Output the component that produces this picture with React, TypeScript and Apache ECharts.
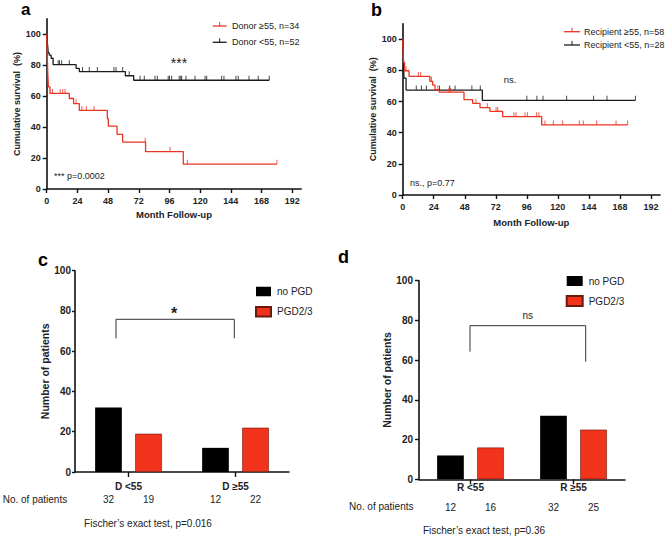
import React, { useEffect, useRef } from 'react';
import * as echarts from 'echarts';

// ---------- Panel a: donor age ----------
const monthTicks = [0, 24, 48, 72, 96, 120, 144, 168, 192];
const survTicks = [0, 20, 40, 60, 80, 100];
const donorLowCurve = [[0, 100], [0.4, 96], [0.8, 92], [1.2, 88], [2, 86.5], [3.5, 84.5], [5, 80.4], [23, 78], [25.5, 75.9], [61.5, 73.2], [68, 70.3], [174, 70.3]];
const donorLowCensor = [9, 10, 11.7, 17.7, 28, 33.3, 39.6, 52.6, 54.2, 59.4, 64.5, 73, 76.3, 84.7, 86.5, 95, 96, 97.7, 103.6, 104.8, 105.5, 108.9, 116, 123.8, 125.1, 136.8, 138.6, 148, 149.8, 158.2, 165.4, 174];
const donorHighCurve = [[0, 100], [0.4, 88], [0.8, 76], [1.3, 66], [2.6, 61.8], [17.7, 58.5], [21, 55.2], [25.5, 50.8], [47.4, 45.5], [48.2, 40.6], [55, 35.3], [59.4, 30.3], [77.3, 24.2], [106.8, 16.1], [180, 16.1]];
const donorHighCensor = [4.5, 10.5, 12.5, 14.3, 23, 27.5, 31, 37, 77, 96.4, 110, 180];

// ---------- Panel b: recipient age ----------
const recipHighCurve = [[0, 100], [0.3, 92], [0.7, 85], [1.5, 79.8], [4.9, 76.2], [21, 73], [23.2, 70.5], [25, 67.6], [28.3, 66], [47.4, 61.2], [54.1, 58.9], [59.8, 56.1], [67.5, 53.7], [77.3, 50.3], [107.5, 45], [174, 45]];
const recipHighCensor = [2.6, 12.1, 13.9, 22.2, 27.2, 35.8, 37.1, 56.7, 65.4, 72.2, 73.5, 86, 87.6, 94.6, 96.5, 103.6, 105.3, 110, 116.5, 123.7, 136.6, 139.7, 150, 165, 174];
const recipLowCurve = [[0, 100], [0.5, 88], [1, 75], [2.6, 67.4], [61.6, 60.8], [180, 60.8]];
const recipLowCensor = [10.5, 14.5, 18.3, 28.5, 36.3, 40.5, 53.5, 60, 96, 103.8, 108.5, 126.8, 147.6, 158, 180];

// ---------- Panel c: PGD by donor age ----------
const cCats = ['D <55', 'D ≥55'];
const cNoPgd = [32, 12];
const cPgd = [19, 22];

// ---------- Panel d: PGD by recipient age ----------
const dCats = ['R <55', 'R ≥55'];
const dNoPgd = [12, 32];
const dPgd = [16, 25];

const FONT = '"Liberation Sans", Arial, Helvetica, sans-serif';
const RED = '#ea3522';
const BLACK = '#1c1c1c';
const BAR_RED = '#f2331b';
const AXIS = '#111';

function valueAt(curve: number[][], t: number) {
  let v = curve[0][1];
  for (const [x, y] of curve) {
    if (x <= t) v = y;
    else break;
  }
  return v;
}
const censorPts = (curve: number[][], times: number[]) => times.map((t) => [t, valueAt(curve, t)]);

function kmX(gridIndex: number, nameGap: number) {
  return {
    gridIndex, type: 'value', min: 0, max: 199,
    axisLine: { show: true, lineStyle: { color: AXIS, width: 1.6 } },
    axisTick: { show: true, length: 4, customValues: monthTicks, lineStyle: { color: AXIS, width: 1.4 } },
    axisLabel: { customValues: monthTicks, fontSize: 9, fontWeight: 'bold', color: '#222', margin: 7 },
    splitLine: { show: false },
    name: 'Month Follow-up', nameLocation: 'middle', nameGap,
    nameTextStyle: { fontSize: 9.5, fontWeight: 'bold', color: '#222' },
  };
}
function kmY(gridIndex: number) {
  return {
    gridIndex, type: 'value', min: 0, max: 110,
    axisLine: { show: true, lineStyle: { color: AXIS, width: 1.6 } },
    axisTick: { show: true, length: 4, customValues: survTicks, lineStyle: { color: AXIS, width: 1.4 } },
    axisLabel: { customValues: survTicks, fontSize: 9, fontWeight: 'bold', color: '#222', margin: 6 },
    splitLine: { show: false },
    name: 'Cumulative survival  (%)', nameLocation: 'middle', nameGap: 25,
    nameTextStyle: { fontSize: 9, fontWeight: 'bold', color: '#222' },
  };
}
function barX(gridIndex: number, cats: string[], a: number[], b: number[], margin: number, numLH: number) {
  return {
    gridIndex, type: 'category', data: cats,
    axisLine: { show: true, lineStyle: { color: AXIS, width: 1.6 } },
    axisTick: { show: true, alignWithLabel: true, length: 5, lineStyle: { color: AXIS, width: 1.4 } },
    axisLabel: {
      margin, interval: 0,
      formatter: (v: string, i: number) => `{c|${v}}\n{n|${a[i]}}{n|${b[i]}}`,
      rich: {
        c: { fontSize: 10, fontWeight: 'bold', color: '#222', lineHeight: 13.3 },
        n: { fontSize: 10, color: '#222', width: 40, align: 'center', lineHeight: numLH },
      },
    },
    splitLine: { show: false },
  };
}
function barY(gridIndex: number, margin: number, tickLen: number, nameGap: number) {
  return {
    gridIndex, type: 'value', min: 0, max: 100, interval: 20,
    axisLine: { show: true, lineStyle: { color: AXIS, width: 1.6 } },
    axisTick: { show: true, length: tickLen, lineStyle: { color: AXIS, width: 1.4 } },
    axisLabel: { fontSize: 10, fontWeight: 'bold', color: '#222', margin },
    splitLine: { show: false },
    name: 'Number of patients', nameLocation: 'middle', nameGap,
    nameTextStyle: { fontSize: 10.5, fontWeight: 'bold', color: '#222' },
  };
}
function kmLine(name: string, curve: number[][], color: string, xi: number) {
  return {
    type: 'line', name, xAxisIndex: xi, yAxisIndex: xi, data: curve, step: 'end',
    showSymbol: false, symbol: 'none', lineStyle: { color, width: 1.3 }, z: 3,
  };
}
function kmCensor(curve: number[][], times: number[], color: string, xi: number) {
  return {
    type: 'scatter', xAxisIndex: xi, yAxisIndex: xi, data: censorPts(curve, times),
    symbol: 'rect', symbolSize: [1, 4.5], symbolOffset: [0, -2.2],
    itemStyle: { color }, z: 4,
  };
}
function bars(xi: number, a: number[], b: number[]) {
  return [
    { type: 'bar', name: 'no PGD', xAxisIndex: xi, yAxisIndex: xi, data: a, barWidth: 26.7, barGap: '50%', itemStyle: { color: '#000' } },
    { type: 'bar', name: 'PGD2/3', xAxisIndex: xi, yAxisIndex: xi, data: b, barWidth: 26.7, barGap: '50%', itemStyle: { color: BAR_RED, borderColor: '#6a1a0e', borderWidth: 0.6 } },
  ];
}
function txt(text: string, x: number, y: number, size: number, opts: any = {}) {
  return {
    type: 'text', silent: true,
    style: {
      text, x, y, fill: opts.fill || '#222',
      font: `${opts.weight || 'normal'} ${size}px ${FONT}`,
      textAlign: opts.align || 'left', textVerticalAlign: 'middle',
    },
  };
}
function kmLegend(x1: number, x2: number, y: number, color: string, label: string, tx: number) {
  const mid = (x1 + x2) / 2;
  return [
    { type: 'line', silent: true, shape: { x1, y1: y, x2, y2: y }, style: { stroke: color, lineWidth: 1.3 } },
    { type: 'line', silent: true, shape: { x1: mid, y1: y, x2: mid, y2: y - 4 }, style: { stroke: color, lineWidth: 1 } },
    txt(label, tx, y, 9),
  ];
}

export default function App() {
  const ref = useRef<HTMLDivElement>(null);
  useEffect(() => {
    if (!ref.current) return;
    const chart = echarts.init(ref.current, undefined, { renderer: 'svg' });
    const option: any = {
      animation: false,
      backgroundColor: '#fff',
      textStyle: { fontFamily: FONT },
      grid: [
        { left: 46.7, top: 18.8, width: 254.5, height: 170.2 },
        { left: 402.7, top: 23.7, width: 257.3, height: 171.3 },
        { left: 75, top: 270.7, width: 214, height: 201.3 },
        { left: 419, top: 280.7, width: 206, height: 198.6 },
      ],
      xAxis: [
        kmX(0, 20.5),
        kmX(1, 22.5),
        barX(2, cCats, cNoPgd, cPgd, 7.8, 13.3),
        barX(3, dCats, dNoPgd, dPgd, 1.5, 27.3),
      ],
      yAxis: [kmY(0), kmY(1), barY(2, 4, 3, 25), barY(3, 6, 4, 26)],
      legend: [
        {
          data: ['no PGD', 'PGD2/3'], orient: 'vertical', left: 255, top: 286.5, padding: 0,
          icon: 'rect', itemWidth: 15, itemHeight: 9.5, itemGap: 9.5,
          textStyle: { fontSize: 10, color: '#222', padding: [0, 0, 0, 1] }, selectedMode: false,
        },
        {
          data: ['no PGD', 'PGD2/3'], orient: 'vertical', left: 565.7, top: 276, padding: 0,
          icon: 'rect', itemWidth: 16, itemHeight: 10, itemGap: 9,
          textStyle: { fontSize: 10, color: '#222', padding: [0, 0, 0, 1] }, selectedMode: false,
        },
      ],
      series: [
        kmLine('Donor <55, n=52', donorLowCurve, BLACK, 0),
        kmLine('Donor ≥55, n=34', donorHighCurve, RED, 0),
        kmCensor(donorLowCurve, donorLowCensor, BLACK, 0),
        kmCensor(donorHighCurve, donorHighCensor, RED, 0),
        kmLine('Recipient <55, n=28', recipLowCurve, BLACK, 1),
        kmLine('Recipient ≥55, n=58', recipHighCurve, RED, 1),
        kmCensor(recipLowCurve, recipLowCensor, BLACK, 1),
        kmCensor(recipHighCurve, recipHighCensor, RED, 1),
        ...bars(2, cNoPgd, cPgd),
        ...bars(3, dNoPgd, dPgd),
      ],
      graphic: [
        txt('a', 21, 9.5, 17, { weight: 'bold', fill: '#000' }),
        txt('b', 371, 9.5, 18, { weight: 'bold', fill: '#000' }),
        txt('c', 38, 259.8, 18, { weight: 'bold', fill: '#000' }),
        txt('d', 338, 256.8, 18, { weight: 'bold', fill: '#000' }),
        ...kmLegend(212.7, 226.7, 26, RED, 'Donor ≥55, n=34', 232),
        ...kmLegend(212.7, 226.7, 42.3, BLACK, 'Donor <55, n=52', 232),
        ...kmLegend(564, 580, 31.7, RED, 'Recipient ≥55, n=58', 584),
        ...kmLegend(564, 580, 45, BLACK, 'Recipient <55, n=28', 584),
        txt('***', 179, 63, 14, { align: 'center' }),
        txt('*** p=0.0002', 54, 176, 9),
        txt('ns.', 510, 79.3, 9.5, { align: 'center' }),
        txt('ns., p=0.77', 410, 182.7, 9),
        {
          type: 'polyline', silent: true,
          shape: { points: [[116, 338.3], [116, 319.3], [234.3, 319.3], [234.3, 338.3]] },
          style: { stroke: '#333', lineWidth: 1, fill: 'none' },
        },
        txt('*', 174, 313.5, 16, { weight: 'bold', align: 'center' }),
        {
          type: 'polyline', silent: true,
          shape: { points: [[470, 351.7], [470, 325.7], [585.7, 325.7], [585.7, 361.7]] },
          style: { stroke: '#333', lineWidth: 1, fill: 'none' },
        },
        txt('ns', 527.7, 315, 10, { align: 'center' }),
        txt('No. of patients', 2.7, 499.3, 10),
        txt('Fischer’s exact test, p=0.016', 148, 523.3, 10, { align: 'center' }),
        txt('No. of patients', 349, 506, 10),
        txt('Fischer’s exact test, p=0.36', 484, 530.7, 10, { align: 'center' }),
      ],
    };
    chart.setOption(option);
    return () => chart.dispose();
  }, []);
  return <div ref={ref} style={{ position: 'absolute', left: 0, top: 0, width: 669, height: 539 }} />;
}
